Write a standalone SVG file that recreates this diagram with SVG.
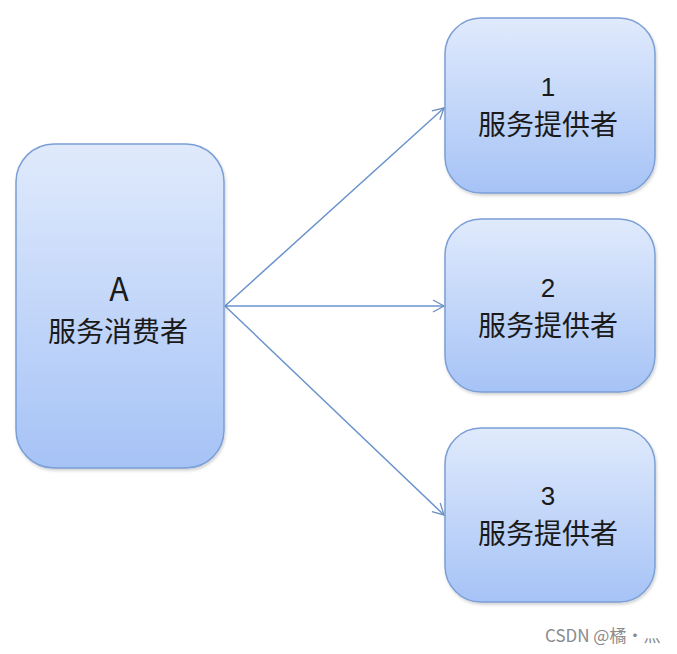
<svg xmlns="http://www.w3.org/2000/svg" width="677" height="654" viewBox="0 0 677 654">
<defs>
<linearGradient id="g" x1="0" y1="0" x2="0" y2="1">
<stop offset="0" stop-color="#e0eafc"/>
<stop offset="1" stop-color="#a6c3f6"/>
</linearGradient>
<marker id="arr" markerWidth="14" markerHeight="14" refX="12" refY="7" orient="auto" markerUnits="userSpaceOnUse">
<path d="M1,1 L12,7 L1,13" fill="none" stroke="#6f8fc0" stroke-width="1.3"/>
</marker>
<filter id="sh" x="-10%" y="-10%" width="120%" height="120%">
<feDropShadow dx="1" dy="2" stdDeviation="1.5" flood-color="#000" flood-opacity="0.18"/>
</filter>
</defs>
<style>
.box{fill:url(#g);stroke:#7b9fd6;stroke-width:1.5;filter:url(#sh)}
.t{font-family:"Noto Sans CJK SC","Noto Sans",sans-serif;fill:#1a1a1a;text-anchor:middle}
.d{font-family:"Liberation Sans","Noto Sans",sans-serif;fill:#1a1a1a;text-anchor:middle;font-size:26px}
.c{stroke:#6a93cc;stroke-width:1.5;fill:none;marker-end:url(#arr)}
</style>
<rect width="677" height="654" fill="#ffffff"/>
<g id="connectors">
<line class="c" x1="225" y1="306" x2="444" y2="108"/>
<line class="c" x1="225" y1="306" x2="444" y2="306"/>
<line class="c" x1="225" y1="306" x2="444" y2="515"/>
</g>
<g id="nodeA">
<rect class="box" x="16" y="144" width="208" height="324" rx="38"/>
<text class="t" x="119" y="301" font-size="32">A</text>
<text class="t" x="118" y="342" font-size="28">服务消费者</text>
</g>
<g id="node1">
<rect class="box" x="445" y="18" width="210" height="175" rx="36"/>
<text class="d" x="548" y="96">1</text>
<text class="t" x="548" y="135" font-size="28">服务提供者</text>
</g>
<g id="node2">
<rect class="box" x="445" y="219" width="210" height="173" rx="36"/>
<text class="d" x="548" y="297">2</text>
<text class="t" x="548" y="336" font-size="28">服务提供者</text>
</g>
<g id="node3">
<rect class="box" x="445" y="428" width="210" height="174" rx="36"/>
<text class="d" x="548" y="505">3</text>
<text class="t" x="548" y="544" font-size="28">服务提供者</text>
</g>
<text x="545" y="642" font-family="'Noto Sans CJK SC','Noto Sans',sans-serif" font-size="17" fill="#8a8a8a">CSDN @橘·灬</text>
</svg>
